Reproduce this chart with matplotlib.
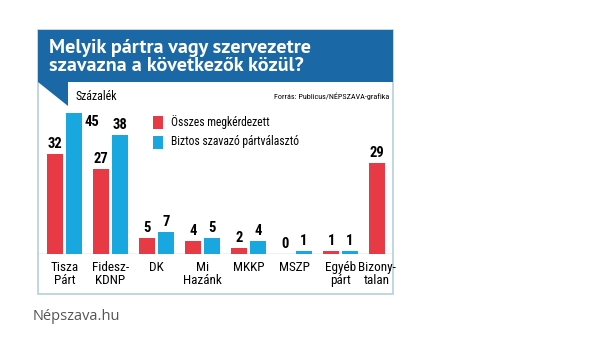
import numpy as np
import matplotlib
matplotlib.use("Agg")
import matplotlib.pyplot as plt
from matplotlib.patches import Rectangle, Polygon

CATS = ["Tisza\nPárt", "Fidesz-\nKDNP", "DK", "Mi\nHazánk", "MKKP", "MSZP", "Egyéb\npárt", "Bizony-\ntalan"]
ALL = [32, 27, 5, 4, 2, 0, 1, 29]
SURE = [45, 38, 7, 5, 4, 1, 1, None]
SERIES = ["Összes megkérdezett", "Biztos szavazó pártválasztó"]
TITLE = "Melyik pártra vagy szervezetre\nszavazna a következők közül?"

RED, BLUE, DARK = "#e83a44", "#19a7e0", "#1a68a6"
NARROW = ["Roboto Condensed", "DejaVu Sans"]
W, H = 596, 355

fig = plt.figure(figsize=(W / 100, H / 100), dpi=100)
bg = fig.add_axes([0, 0, 1, 1])
bg.set_xlim(0, W); bg.set_ylim(H, 0); bg.axis("off")

# frame, title bar, flag
bg.add_patch(Rectangle((37.5, 30), 355, 264, fill=False, ec="#b5cfdc", lw=1.2))
bg.add_patch(Rectangle((37.5, 30), 355, 52, color=DARK, lw=0))
bg.add_patch(Polygon([(37.5, 82), (68, 82), (68, 106)], color=DARK, lw=0))
bg.text(49, 57, TITLE, color="white", fontsize=14.5, fontweight="bold",
        family=["PT Sans", "DejaVu Sans"], va="center", ha="left", linespacing=0.95)
bg.text(75, 96, "Százalék", fontsize=8.6, family=NARROW, va="center")
bg.text(389, 96, "Forrás: Publicus/NÉPSZAVA-grafika", fontsize=5.9, family=NARROW,
        va="center", ha="right")
bg.text(33, 316, "Népszava.hu", fontsize=10.5, family="Open Sans", color="#555555", va="center")

# legend
for i, (lab, c) in enumerate(zip(SERIES, [RED, BLUE])):
    y = 122 + i * 20
    bg.add_patch(Rectangle((153, y - 6.5), 10, 13, color=c, lw=0))
    bg.text(171, y, lab, fontsize=8.4, family=NARROW, va="center")

# bars
ax = fig.add_axes([37 / W, (H - 254) / H, 356 / W, 154 / H])
ax.set_xlim(-0.598, 7.141); ax.set_ylim(0, 49.2)
ax.axis("off")
x = np.arange(len(CATS)); w = 0.36; off = 0.205
ax.axhline(0, color="#bbbbbb", lw=1, zorder=0)
for i in x:
    ax.bar(i - off, ALL[i], w, color=RED, zorder=2)
    ax.text(i - off, ALL[i] + 1.0, str(ALL[i]), ha="center", va="bottom",
            fontsize=10.5, fontweight="bold", family=NARROW)
    if SURE[i] is not None:
        ax.bar(i + off, SURE[i], w, color=BLUE, zorder=2)
        if SURE[i] > 42:
            ax.text(i + off + w / 2 + 0.04, SURE[i] - 0.5, str(SURE[i]), ha="left", va="top",
                    fontsize=10.5, fontweight="bold", family=NARROW)
        else:
            ax.text(i + off, SURE[i] + 1.0, str(SURE[i]), ha="center", va="bottom",
                    fontsize=10.5, fontweight="bold", family=NARROW)
    lx = i - off if SURE[i] is None else i
    ax.text(lx, -2.3, CATS[i], ha="center", va="top", fontsize=9.5, family=NARROW,
            linespacing=1.0, clip_on=False)

fig.savefig("out.png", dpi=100)
